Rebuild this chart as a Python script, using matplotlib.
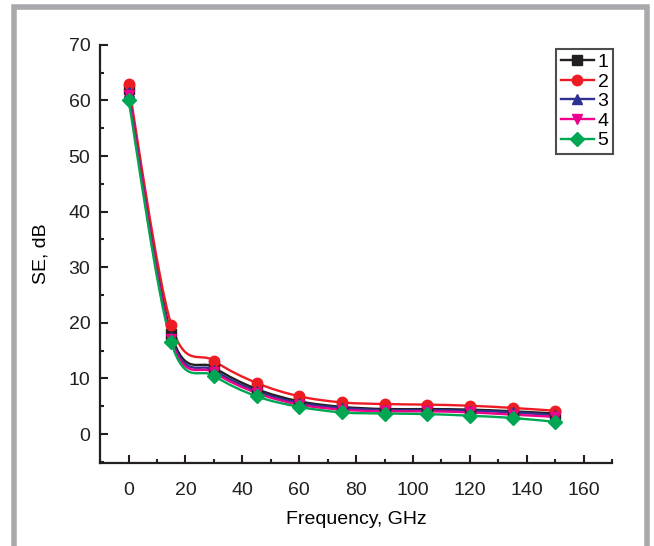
import numpy as np
import matplotlib
matplotlib.use('Agg')
import matplotlib.pyplot as plt
from matplotlib.path import Path
from matplotlib.patches import PathPatch, Rectangle
from matplotlib.ticker import MultipleLocator
from matplotlib.lines import Line2D

plt.rcParams['font.family'] = ['Liberation Sans', 'DejaVu Sans']

# data
freq = [0, 15, 30, 45, 60, 75, 90, 105, 120, 135, 150]
se1 = [62.0, 18.0, 12.0, 8.1, 5.9, 4.9, 4.5, 4.5, 4.4, 4.1, 3.7]
se2 = [62.9, 19.7, 13.2, 9.2, 6.8, 5.7, 5.4, 5.3, 5.1, 4.7, 4.2]
se3 = [61.5, 17.5, 11.5, 7.7, 5.6, 4.7, 4.3, 4.3, 4.2, 3.9, 3.4]
se4 = [61.0, 17.1, 11.1, 7.4, 5.3, 4.4, 4.1, 4.1, 3.9, 3.5, 3.1]
se5 = [60.1, 16.5, 10.5, 6.8, 4.9, 3.9, 3.7, 3.6, 3.3, 2.9, 2.2]
labels = ['1', '2', '3', '4', '5']

colors = ['#231f20', '#ed1c24', '#2e3192', '#ec008c', '#00a651']
markers = ['s', 'o', '^', 'v', 'D']
msizes = [6.5, 7.5, 7.5, 7.5, 7]


def spline_path(x, y):
    # catmull-rom through the points, drawn as bezier segments
    x = np.asarray(x, float)
    y = np.asarray(y, float)
    n = len(x)
    verts = [(x[0], y[0])]
    codes = [Path.MOVETO]
    for i in range(n - 1):
        i0 = max(i - 1, 0)
        i3 = min(i + 2, n - 1)
        c1 = (x[i] + (x[i + 1] - x[i0]) / 6, y[i] + (y[i + 1] - y[i0]) / 6)
        c2 = (x[i + 1] - (x[i3] - x[i]) / 6, y[i + 1] - (y[i3] - y[i]) / 6)
        verts += [c1, c2, (x[i + 1], y[i + 1])]
        codes += [Path.CURVE4] * 3
    return Path(verts, codes)


fig = plt.figure(figsize=(6.54, 5.46), dpi=100)
ax = fig.add_axes([0.153, 0.152, 0.783, 0.766])

handles = []
for ys, c, m, ms, lab in zip([se1, se2, se3, se4, se5], colors, markers, msizes, labels):
    ax.add_patch(PathPatch(spline_path(freq, ys), fill=False, edgecolor=c, lw=1.7))
    ax.plot(freq, ys, ls='none', marker=m, color=c, ms=ms)
    handles.append(Line2D([], [], color=c, marker=m, ms=ms, lw=1.7, label=lab))

ax.set_xlim(-10, 170)
ax.set_ylim(-5.2, 70)
ax.xaxis.set_major_locator(MultipleLocator(20))
ax.xaxis.set_minor_locator(MultipleLocator(10))
ax.yaxis.set_major_locator(MultipleLocator(10))
ax.yaxis.set_minor_locator(MultipleLocator(5))
ax.tick_params(which='both', direction='in', width=1.5, labelsize=14, colors='#231f20')
ax.tick_params(which='major', length=6)
ax.tick_params(which='minor', length=3)
ax.tick_params(axis='x', pad=14)
ax.tick_params(axis='y', pad=7)

for s in ['top', 'right']:
    ax.spines[s].set_visible(False)
for s in ['left', 'bottom']:
    ax.spines[s].set_linewidth(1.6)
    ax.spines[s].set_color('#231f20')

ax.set_xlabel('Frequency, GHz', fontsize=14, labelpad=8)
ax.set_ylabel('SE, dB', fontsize=14, labelpad=14)

leg = ax.legend(handles=handles, loc='upper right', bbox_to_anchor=(1.01, 1.0),
                fontsize=14, frameon=True, fancybox=False, handlelength=1.7,
                handletextpad=0.2, labelspacing=0.1, borderpad=0.25, borderaxespad=0.2)
leg.get_frame().set_edgecolor('#231f20')
leg.get_frame().set_linewidth(1.5)

# grey frame round the figure
fig.patches.append(Rectangle((0.022, -0.05), 0.968, 1.037, transform=fig.transFigure,
                             fill=False, edgecolor='#a7a9ac', lw=4, zorder=-1))

fig.savefig('out.png', dpi=100)
